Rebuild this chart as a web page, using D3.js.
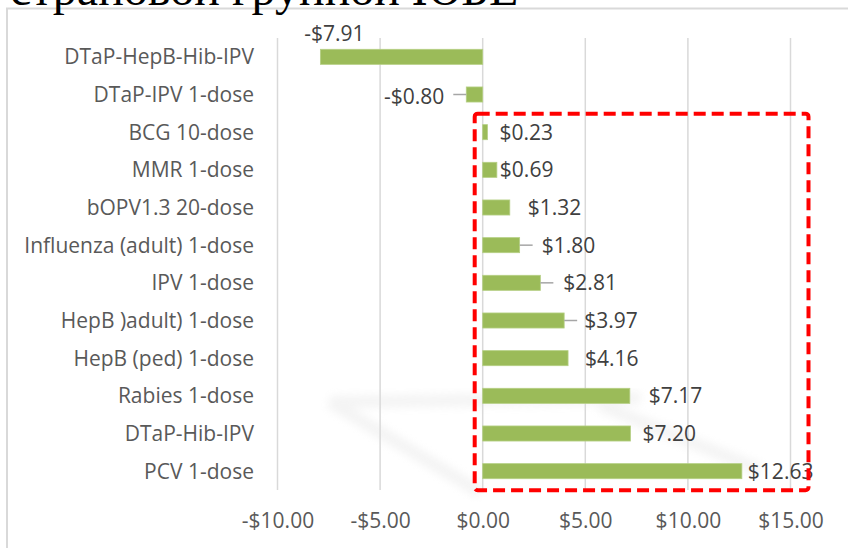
<!DOCTYPE html>
<html>
<head>
<meta charset="utf-8">
<script src="https://cdn.jsdelivr.net/npm/d3@7"></script>
<style>
  body { margin: 0; background: #fff; }
  svg { display: block; }
</style>
</head>
<body>
<script>
// vaccine cost difference per dose, top to bottom
var vaccines = ["DTaP-HepB-Hib-IPV", "DTaP-IPV 1-dose", "BCG 10-dose", "MMR 1-dose",
  "bOPV1.3 20-dose", "Influenza (adult) 1-dose", "IPV 1-dose", "HepB )adult) 1-dose",
  "HepB (ped) 1-dose", "Rabies 1-dose", "DTaP-Hib-IPV", "PCV 1-dose"];
var savings = [-7.91, -0.80, 0.23, 0.69, 1.32, 1.80, 2.81, 3.97, 4.16, 7.17, 7.20, 12.63];
var xTicks = [-10, -5, 0, 5, 10, 15];
var title = "страновой группой ЮБЕ";

// hand-placed data labels (as dragged in the original), offset from bar end
var labelDx = [14, -22, 12, 3, 18, 22, 23, 20, 17, 19, 12, 6];
var labelDy = [-23, 2, 0, 0, 0, 0, 0, 0, 0, 0, 0, 0];
var hasLeader = [false, true, false, false, false, true, true, true, false, false, false, false];

var W = 848, H = 548;
var font = "'Open Sans', 'Noto Sans', sans-serif";
var fs = 21;

var svg = d3.select("body").append("svg").attr("width", W).attr("height", H);

// chart frame (runs off the page at right/bottom)
svg.append("rect")
  .attr("x", 7).attr("y", 8.5)
  .attr("width", 900).attr("height", 600)
  .attr("fill", "#fff")
  .attr("stroke", "#d9d9d9").attr("stroke-width", 2);

// cut-off heading from the slide above
svg.append("text")
  .attr("x", 10).attr("y", 5)
  .attr("font-family", "'Liberation Serif', 'DejaVu Serif', serif")
  .attr("font-size", 48)
  .attr("fill", "#000")
  .text(title);

var x = d3.scaleLinear().domain([-10, 15]).range([277.5, 790.5]);
var y = d3.scaleBand().domain(vaccines).range([38, 490]).paddingInner(0.6).paddingOuter(0.3);

// faint scan smudge
var defs = svg.append("defs");
defs.append("filter").attr("id", "blur").append("feGaussianBlur").attr("stdDeviation", 4);
svg.append("path")
  .attr("d", "M330,402 L480,492 M330,402 L640,398 M600,405 L760,470")
  .attr("fill", "none")
  .attr("stroke", "#e6e6e6")
  .attr("stroke-width", 12)
  .attr("opacity", 0.45)
  .attr("filter", "url(#blur)");

// gridlines
svg.append("g")
  .selectAll("line")
  .data(xTicks)
  .enter().append("line")
  .attr("x1", function (d) { return x(d); })
  .attr("x2", function (d) { return x(d); })
  .attr("y1", 38).attr("y2", 490)
  .attr("stroke", "#d9d9d9").attr("stroke-width", 1.5);

// x axis labels
var xAxis = d3.axisBottom(x)
  .tickValues(xTicks)
  .tickSize(0)
  .tickPadding(0)
  .tickFormat(function (d) { return (d < 0 ? "-$" : "$") + Math.abs(d).toFixed(2); });

var gx = svg.append("g").attr("transform", "translate(0,521)").call(xAxis);
gx.select(".domain").remove();
gx.selectAll("text")
  .attr("y", 0).attr("dy", "0.35em")
  .attr("font-family", font).attr("font-size", fs)
  .attr("fill", "#595959");

// category labels
var yAxis = d3.axisLeft(y).tickSize(0).tickPadding(0);
var gy = svg.append("g").attr("transform", "translate(254,0)").call(yAxis);
gy.select(".domain").remove();
gy.selectAll("text")
  .attr("x", 0).attr("dy", "0.35em")
  .attr("font-family", font).attr("font-size", fs)
  .attr("fill", "#595959");

// bars
svg.append("g")
  .selectAll("rect")
  .data(savings)
  .enter().append("rect")
  .attr("x", function (d) { return Math.min(x(0), x(d)); })
  .attr("y", function (d, i) { return y(vaccines[i]); })
  .attr("width", function (d) { return Math.abs(x(d) - x(0)); })
  .attr("height", y.bandwidth())
  .attr("fill", "#9bbb59")
  .attr("stroke", "#b5cf84").attr("stroke-width", 0.8);

// leader lines
svg.append("g")
  .selectAll("line")
  .data(savings.filter(function (d, i) { return hasLeader[i]; }))
  .enter().append("line")
  .attr("x1", function (d) { return x(d); })
  .attr("x2", function (d) { return x(d) + (d < 0 ? -13 : 13); })
  .attr("y1", function (d) { var i = savings.indexOf(d); return y(vaccines[i]) + y.bandwidth() / 2; })
  .attr("y2", function (d) { var i = savings.indexOf(d); return y(vaccines[i]) + y.bandwidth() / 2; })
  .attr("stroke", "#a6a6a6").attr("stroke-width", 1.5);

// data labels
svg.append("g")
  .selectAll("text")
  .data(savings)
  .enter().append("text")
  .attr("x", function (d, i) { return x(d) + labelDx[i]; })
  .attr("y", function (d, i) { return y(vaccines[i]) + y.bandwidth() / 2 + labelDy[i]; })
  .attr("dy", "0.35em")
  .attr("text-anchor", function (d, i) { return i === 0 ? "middle" : (d < 0 ? "end" : "start"); })
  .attr("font-family", font).attr("font-size", fs)
  .attr("fill", "#404040")
  .text(function (d) { return (d < 0 ? "-$" : "$") + Math.abs(d).toFixed(2); });

// red dashed highlight box around the positive bars
var boxTop = y(vaccines[2]) - 11;
var boxBottom = y(vaccines[11]) + y.bandwidth() + 11.5;
svg.append("rect")
  .attr("x", x(0) - 8).attr("y", boxTop)
  .attr("width", x(15) + 18 - (x(0) - 8))
  .attr("height", boxBottom - boxTop)
  .attr("rx", 3)
  .attr("fill", "none")
  .attr("stroke", "#ff0000").attr("stroke-width", 4)
  .attr("stroke-dasharray", "12 6");
</script>
</body>
</html>
